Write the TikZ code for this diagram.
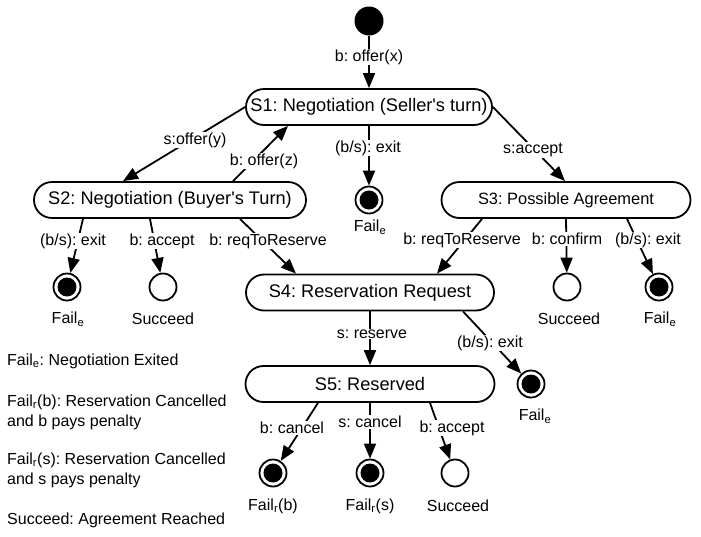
\documentclass[tikz,border=0pt]{standalone}
\usepackage{fontspec}
\setmainfont{Liberation Sans}
\usetikzlibrary{arrows.meta}
\begin{document}
\frenchspacing
\begin{tikzpicture}[x=1pt,y=-1pt,
  stbox/.style={draw, line width=1.8pt, rounded corners=18pt, minimum height=36pt, inner sep=0pt, font=\fontsize{18.2}{20}\selectfont},
  initst/.style={circle, fill=black, minimum size=29pt, inner sep=0pt},
  endst/.style={circle, draw, line width=1.8pt, minimum size=27pt, inner sep=0pt, path picture={\fill[black] (path picture bounding box.center) circle (9.5pt);}},
  goodst/.style={circle, draw, line width=1.8pt, minimum size=27pt, inner sep=0pt},
  lbl/.style={fill=white, inner sep=1pt, font=\fontsize{16}{18}\selectfont},
  txt/.style={inner sep=0pt, font=\fontsize{16}{20}\selectfont},
  tr/.style={line width=1.8pt, -{Triangle[length=15pt,width=12pt]}},
]
\useasboundingbox (0,0) rectangle (701,536);

% states
\node[initst] (init) at (369,21) {};
\node[stbox, minimum width=246pt] (S1) at (369,107) {S1: Negotiation (Seller\textquotesingle s turn)};
\node[stbox, minimum width=272pt] (S2) at (170,200) {S2: Negotiation (Buyer\textquotesingle s Turn)};
\node[stbox, minimum width=249pt, font=\fontsize{16.4}{18}\selectfont] (S3) at (566,200) {S3: Possible Agreement};
\node[stbox, minimum width=248pt] (S4) at (370,292.5) {S4: Reservation Request};
\node[stbox, minimum width=249pt] (S5) at (370,384) {S5: Reserved};

\node[endst] (fe1) at (369,200) {};
\node[endst] (fe2) at (67,287) {};
\node[goodst] (su2) at (163,287) {};
\node[goodst] (su3) at (567,287) {};
\node[endst] (fe3) at (659,287) {};
\node[endst] (fe4) at (531,384) {};
\node[endst] (frb) at (273,473) {};
\node[endst] (frs) at (370,473) {};
\node[goodst] (su5) at (455,473) {};

% state names
\node[txt] (fe1t) at (370,227) {Fail\textsubscript{e}};
\node[txt] (fe2t) at (68,319) {Fail\textsubscript{e}};
\node[txt] (su2t) at (163,319) {Succeed};
\node[txt] (su3t) at (569,319) {Succeed};
\node[txt] (fe3t) at (660,319) {Fail\textsubscript{e}};
\node[txt] (fe4t) at (535,416) {Fail\textsubscript{e}};
\node[txt] (frbt) at (273,506) {Fail\textsubscript{r}(b)};
\node[txt] (frst) at (370,506) {Fail\textsubscript{r}(s)};
\node[txt] (su5t) at (458,506) {Succeed};

% transitions
\draw[tr] (init) -- (S1) node[lbl, at={(369,57)}] {b: offer(x)};
\draw[tr] (S1.west) -- ([xshift=-47pt]S2.north) node[lbl, at={(195,140)}] {s:offer(y)};
\draw[tr] ([xshift=63pt]S2.north) -- ([xshift=-81pt]S1.south) node[lbl, at={(264,161)}] {b: offer(z)};
\draw[tr] (S1.south) -- (fe1) node[lbl, at={(368,148)}] {(b/s): exit};
\draw[tr] (S1.east) -- ([xshift=-1pt]S3.north) node[lbl, at={(533,150)}] {s:accept};
\draw[tr] ([xshift=-87pt]S2.south) -- (fe2) node[lbl, at={(73,241)}] {(b/s): exit};
\draw[tr] ([xshift=-20pt]S2.south) -- (su2) node[lbl, at={(162,241)}] {b: accept};
\draw[tr] ([xshift=70pt]S2.south) -- ([xshift=-74pt]S4.north) node[lbl, at={(268,241)}] {b: reqToReserve};
\draw[tr] ([xshift=-84pt]S3.south) -- ([xshift=67pt]S4.north) node[lbl, at={(462,240)}] {b: reqToReserve};
\draw[tr] (S3.south) -- (su3) node[lbl, at={(567,239)}] {b: confirm};
\draw[tr] ([xshift=61pt]S3.south) -- (fe3) node[lbl, at={(648,240)}] {(b/s): exit};
\draw[tr] (S4.south) -- (S5.north) node[lbl, at={(372,334)}] {s: reserve};
\draw[tr] ([xshift=93pt]S4.south) -- (fe4) node[lbl, at={(490,343)}] {(b/s): exit};
\draw[tr] ([xshift=-52pt]S5.south) -- (frb) node[lbl, at={(292,428)}] {b: cancel};
\draw[tr] (S5.south) -- (frs) node[lbl, at={(370,422)}] {s: cancel};
\draw[tr] ([xshift=60pt]S5.south) -- (su5) node[lbl, at={(452,428)}] {b: accept};

% legend
\node[txt, anchor=west] (lg1) at (7,361) {Fail\textsubscript{e}: Negotiation Exited};
\node[txt, anchor=west, align=left] (lg2) at (7,412) {Fail\textsubscript{r}(b): Reservation Cancelled\\and b pays penalty};
\node[txt, anchor=west, align=left] (lg3) at (7,470) {Fail\textsubscript{r}(s): Reservation Cancelled\\and s pays penalty};
\node[txt, anchor=west] (lg4) at (7,520) {Succeed: Agreement Reached};
\end{tikzpicture}
\end{document}
